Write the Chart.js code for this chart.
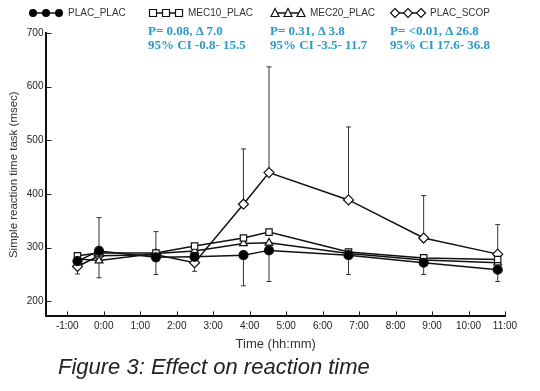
<!DOCTYPE html>
<html lang="en">
<head>
    <meta charset="UTF-8">
    <title>Figure 3: Effect on reaction time</title>
    <script src="https://cdn.jsdelivr.net/npm/chart.js"></script>
    <style>
        body {
            margin: 0;
            padding: 0;
            background: #fff;
            font-family: "Liberation Sans", Arial, sans-serif;
        }

        .wrap {
            position: relative;
            width: 540px;
            height: 391px;
        }

        .stat {
            position: absolute;
            color: #2b9ac9;
            font-family: "Liberation Serif", "Times New Roman", serif;
            font-weight: bold;
            font-size: 13px;
            line-height: 14px;
            white-space: nowrap;
        }

        .caption {
            position: absolute;
            left: 58px;
            top: 354px;
            font-style: italic;
            font-size: 22px;
            color: #222;
            white-space: nowrap;
        }
    </style>
</head>
<body>

    <div class="wrap">
        <canvas id="rtChart" width="540" height="391"></canvas>

        <!-- stats under each active-treatment legend entry -->
        <div class="stat" style="left:148px; top:24px;">P= 0.08, &Delta; 7.0<br>95% CI -0.8- 15.5</div>
        <div class="stat" style="left:270px; top:24px;">P= 0.31, &Delta; 3.8<br>95% CI -3.5- 11.7</div>
        <div class="stat" style="left:390px; top:24px;">P= &lt;0.01, &Delta; 26.8<br>95% CI 17.6- 36.8</div>

        <div class="caption">Figure 3: Effect on reaction time</div>
    </div>

    <script>
        // time after dosing, decimal hours
        const times = [-0.72, -0.13, 1.43, 2.49, 3.83, 4.53, 6.71, 8.77, 10.8];

        // mean reaction time (msec) per treatment
        const placPlac = [275, 294, 282, 283, 286, 295, 286, 272, 259];
        const mec10Plac = [285, 290, 290, 303, 318, 329, 292, 281, 278];
        const mec20Plac = [279, 276, 289, 294, 308, 309, 289, 277, 272];
        const placScop = [265, 285, 287, 272, 381, 440, 389, 318, 288];

        // error bars: upper end for PLAC_SCOP, lower end for PLAC_PLAC
        const scopUpper = [null, 356, 330, null, 484, 637, 525, 397, 343];
        const placLower = [251, 244, 250, 256, 229, 237, 250, 250, 237];

        const xTicks = [-1, 0, 1, 2, 3, 4, 5, 6, 7, 8, 9, 10, 11];
        const yTicks = [200, 300, 400, 500, 600, 700];

        const toPoints = vals => vals.map((v, i) => ({ x: times[i], y: v }));

        // one marker, same look as the chart points
        const drawMarker = (g, style, x, y) => {
            g.beginPath();
            if (style === 'circle') {
                g.arc(x, y, 4, 0, Math.PI * 2);
                g.fillStyle = '#000';
                g.fill();
                return;
            }
            if (style === 'rect') {
                g.rect(x - 3.5, y - 3.5, 7, 7);
            } else if (style === 'triangle') {
                g.moveTo(x, y - 4.5);
                g.lineTo(x + 4, y + 3.5);
                g.lineTo(x - 4, y + 3.5);
                g.closePath();
            } else {
                g.moveTo(x, y - 4.5);
                g.lineTo(x + 4.5, y);
                g.lineTo(x, y + 4.5);
                g.lineTo(x - 4.5, y);
                g.closePath();
            }
            g.fillStyle = '#fff';
            g.fill();
            g.lineWidth = 1.2;
            g.stroke();
        };

        // legend row drawn by hand so it stays on one line like the original
        const legendRow = {
            id: 'legendRow',
            afterDraw(chart) {
                const { ctx } = chart;
                const starts = [30, 150, 272, 392];
                const cy = 13;
                ctx.save();
                chart.data.datasets.forEach((ds, i) => {
                    const x0 = starts[i];
                    ctx.strokeStyle = '#111';
                    ctx.lineWidth = 1.5;
                    ctx.beginPath();
                    ctx.moveTo(x0 + 2, cy);
                    ctx.lineTo(x0 + 30, cy);
                    ctx.stroke();
                    [x0 + 3, x0 + 16, x0 + 29].forEach(mx => drawMarker(ctx, ds.pointStyle, mx, cy));
                    ctx.fillStyle = '#333';
                    ctx.font = '10px "Liberation Sans", Arial, sans-serif';
                    ctx.textBaseline = 'middle';
                    ctx.fillText(ds.label, x0 + 38, cy);
                });
                ctx.restore();
            }
        };

        const errorBars = {
            id: 'errorBars',
            beforeDatasetsDraw(chart) {
                const { ctx, scales: { x, y } } = chart;
                ctx.save();
                ctx.strokeStyle = '#333';
                ctx.lineWidth = 1;
                const bar = (t, from, to) => {
                    const px = x.getPixelForValue(t);
                    const y1 = y.getPixelForValue(from);
                    const y2 = y.getPixelForValue(to);
                    ctx.beginPath();
                    ctx.moveTo(px, y1);
                    ctx.lineTo(px, y2);
                    ctx.moveTo(px - 2.5, y2);
                    ctx.lineTo(px + 2.5, y2);
                    ctx.stroke();
                };
                times.forEach((t, i) => {
                    if (scopUpper[i] !== null) bar(t, placScop[i], scopUpper[i]);
                    if (placLower[i] !== null) bar(t, placPlac[i], placLower[i]);
                });
                ctx.restore();
            }
        };

        // tick marks pointing into the plot
        const innerTicks = {
            id: 'innerTicks',
            afterDraw(chart) {
                const { ctx, chartArea, scales: { x, y } } = chart;
                ctx.save();
                ctx.strokeStyle = '#222';
                ctx.lineWidth = 1;
                ctx.beginPath();
                xTicks.forEach(v => {
                    const px = Math.round(x.getPixelForValue(v)) + 0.5;
                    ctx.moveTo(px, chartArea.bottom);
                    ctx.lineTo(px, chartArea.bottom - 5);
                });
                yTicks.forEach(v => {
                    const py = Math.round(y.getPixelForValue(v)) + 0.5;
                    ctx.moveTo(chartArea.left, py);
                    ctx.lineTo(chartArea.left + 5, py);
                });
                ctx.stroke();
                ctx.restore();
            }
        };

        Chart.defaults.font.family = '"Liberation Sans", Arial, sans-serif';
        Chart.defaults.color = '#222';

        const series = [
            { label: 'PLAC_PLAC', data: placPlac, style: 'circle', fill: '#000', r: 4.5 },
            { label: 'MEC10_PLAC', data: mec10Plac, style: 'rect', fill: '#fff', r: 4.5 },
            { label: 'MEC20_PLAC', data: mec20Plac, style: 'triangle', fill: '#fff', r: 4.5 },
            { label: 'PLAC_SCOP', data: placScop, style: 'rectRot', fill: '#fff', r: 5 }
        ];

        new Chart(document.getElementById('rtChart'), {
            type: 'scatter',
            data: {
                datasets: series.map(s => ({
                    label: s.label,
                    data: toPoints(s.data),
                    showLine: true,
                    borderColor: '#111',
                    borderWidth: 1.5,
                    pointStyle: s.style,
                    pointRadius: s.r,
                    pointBackgroundColor: s.fill,
                    pointBorderColor: '#111',
                    pointBorderWidth: 1.2
                }))
            },
            options: {
                responsive: false,
                animation: false,
                layout: {
                    padding: { left: 7, right: 35, top: 33, bottom: 39 }
                },
                plugins: {
                    tooltip: { enabled: false },
                    legend: { display: false }
                },
                scales: {
                    x: {
                        type: 'linear',
                        min: -1.57,
                        max: 11,
                        afterBuildTicks: (scale) => {
                            scale.ticks = xTicks.map(v => ({ value: v }));
                        },
                        grid: { display: false, drawTicks: false },
                        border: { display: true, color: '#111', width: 2 },
                        ticks: {
                            padding: 4,
                            font: { size: 10 },
                            maxRotation: 0,
                            callback: (v) => v + ':00'
                        },
                        title: {
                            display: true,
                            text: 'Time (hh:mm)',
                            font: { size: 13 },
                            color: '#333',
                            padding: { top: 0, bottom: 0 }
                        }
                    },
                    y: {
                        min: 172,
                        max: 700,
                        afterBuildTicks: (scale) => {
                            scale.ticks = yTicks.map(v => ({ value: v }));
                        },
                        grid: { display: false, drawTicks: false },
                        border: { display: true, color: '#111', width: 2 },
                        ticks: {
                            padding: 3,
                            font: { size: 10 }
                        },
                        title: {
                            display: true,
                            text: 'Simple reaction time task (msec)',
                            font: { size: 11.5 },
                            color: '#333',
                            padding: { top: 0, bottom: 3 }
                        }
                    }
                }
            },
            plugins: [errorBars, innerTicks, legendRow]
        });
    </script>

</body>
</html>
